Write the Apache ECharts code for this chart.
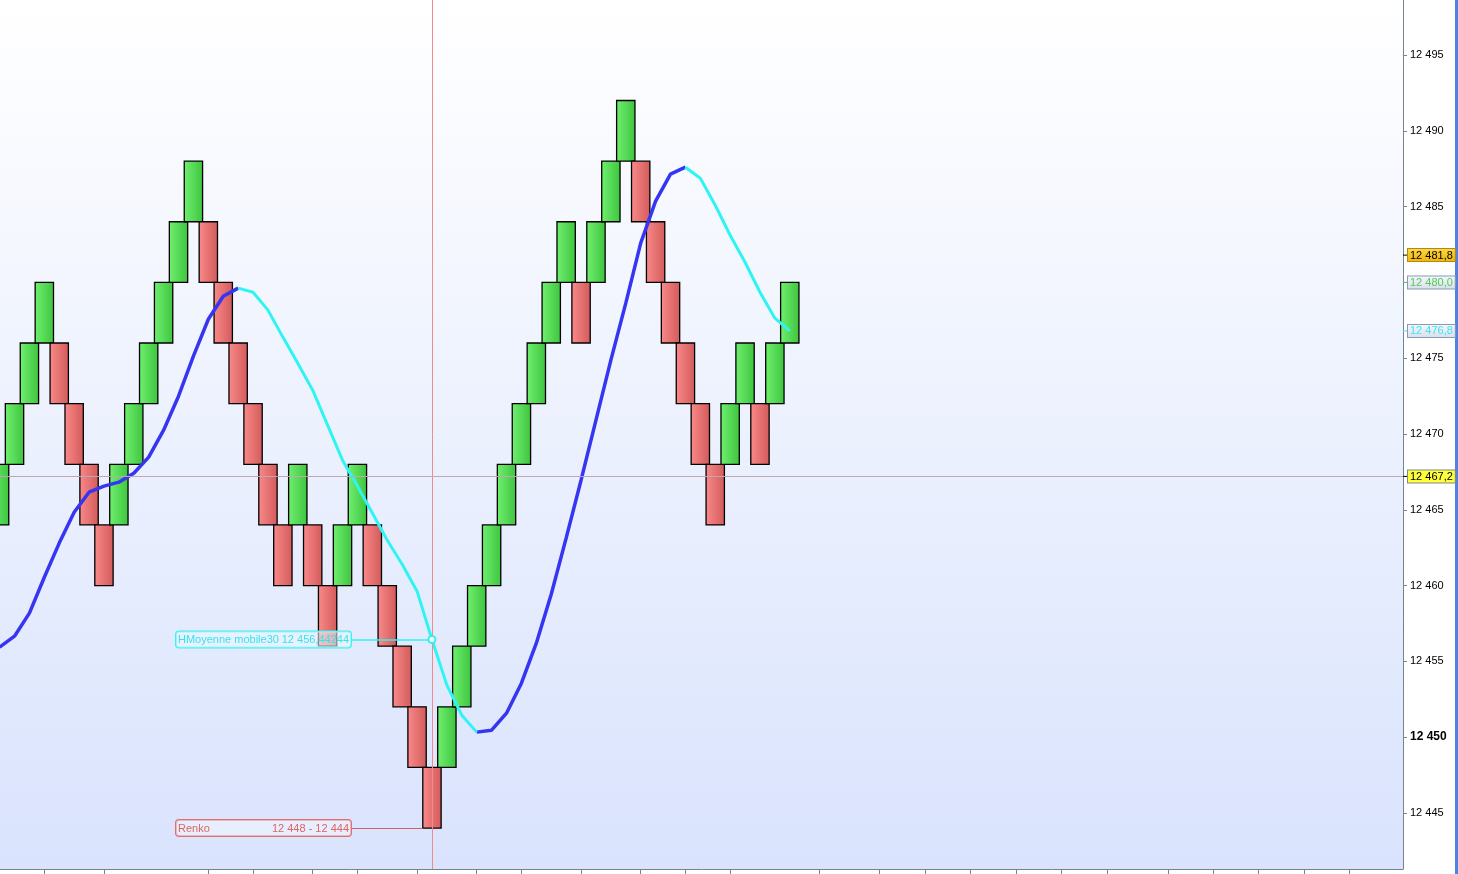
<!DOCTYPE html>
<html>
<head>
<meta charset="utf-8">
<script src="https://cdn.jsdelivr.net/npm/echarts@6/dist/echarts.min.js"></script>
<style>
  html, body { margin: 0; padding: 0; background: #fff; }
  #chart { width: 1458px; height: 874px; }
</style>
</head>
<body>
<div id="chart"></div>
<script>
// renko bricks, box size 4 : bottom of each brick and its direction (1 up, -1 down)
const BOX = 4
const brickLow = [
  12464, 12468, 12472, 12476, 12472, 12468, 12464, 12460,
  12464, 12468, 12472, 12476, 12480, 12484,
  12480, 12476, 12472, 12468, 12464, 12460,
  12464, 12460, 12456, 12460, 12464,
  12460, 12456, 12452, 12448, 12444,
  12448, 12452, 12456, 12460, 12464, 12468, 12472, 12476, 12480,
  12476, 12480, 12484, 12488,
  12484, 12480, 12476, 12472, 12468, 12464,
  12468, 12472, 12468, 12472, 12476
]
const brickDir = [
  1, 1, 1, 1, -1, -1, -1, -1,
  1, 1, 1, 1, 1, 1,
  -1, -1, -1, -1, -1, -1,
  1, -1, -1, 1, 1,
  -1, -1, -1, -1, -1,
  1, 1, 1, 1, 1, 1, 1, 1, 1,
  -1, 1, 1, 1,
  -1, -1, -1, -1, -1, -1,
  1, 1, -1, 1, 1
]
// moving average (30), one value per brick
const maValues = [
  12455.94, 12456.66, 12458.18, 12460.55, 12462.80, 12464.84, 12466.16, 12466.56,
  12466.82, 12467.41, 12468.47, 12470.25, 12472.49, 12475.13, 12477.57, 12479.09,
  12479.62, 12479.35, 12478.17, 12476.39, 12474.67, 12472.89, 12470.58, 12468.27,
  12466.56, 12464.78, 12462.99, 12461.41, 12459.63, 12456.44244, 12453.43, 12451.45,
  12450.33, 12450.46, 12451.58, 12453.56, 12456.20, 12459.43, 12463.13, 12466.95,
  12470.91, 12474.87, 12478.63, 12482.59, 12485.36, 12487.14, 12487.60, 12486.87,
  12485.09, 12483.11, 12481.33, 12479.35, 12477.64, 12476.8
]
const yTicks = [12445, 12450, 12455, 12460, 12465, 12470, 12475, 12480, 12485, 12490, 12495]
const xTicks = [3, 7, 14, 17, 21, 24, 28, 32, 35, 39, 43, 46, 49, 55, 59, 62.1, 65.1, 68.2, 71.2, 74.3, 78.4, 81.4, 84.4, 87.5, 90.5]

const crossIdx = 29
const crossPrice = 12467.2
const lastPrice = 12481.8
const lastClose = 12480.0
const maName = 'HMoyenne mobile30'

const FONT = '"Liberation Sans", Arial, sans-serif'
const HALF = 0.615

function fmt(v, d) {
  const s = v.toFixed(d).split('.')
  const int = s[0].replace(/\B(?=(\d{3})+(?!\d))/g, ' ')
  return d ? int + ',' + s[1] : int
}

const bricks = brickLow.map((lo, i) => [i, lo, lo + BOX, brickDir[i]])

const n = maValues.length
const maUp = maValues.map((v, i) =>
  ((i > 0 && v > maValues[i - 1]) || (i < n - 1 && maValues[i + 1] > v)) ? [i, v] : [i, null])
const maDown = maValues.map((v, i) =>
  ((i > 0 && v < maValues[i - 1]) || (i < n - 1 && maValues[i + 1] < v)) ? [i, v] : [i, null])

const greenFill = new echarts.graphic.LinearGradient(0, 0, 1, 0, [
  { offset: 0, color: '#70f070' }, { offset: 1, color: '#3ec43e' }])
const redFill = new echarts.graphic.LinearGradient(0, 0, 1, 0, [
  { offset: 0, color: '#fa8a8a' }, { offset: 1, color: '#d25a5a' }])

function priceTag(v, dec, txt, bg, border, tick, line) {
  return {
    yAxis: v,
    lineStyle: line || { color: 'rgba(0,0,0,0)', width: 1, type: 'solid' },
    label: {
      show: true, position: 'end', distance: 0,
      formatter: '{t|}{v|' + fmt(v, dec) + '}',
      rich: {
        t: { width: 5, height: 1, backgroundColor: tick },
        v: {
          color: txt, fontSize: 11, fontFamily: FONT, lineHeight: 13,
          backgroundColor: bg, borderColor: border, borderWidth: 1,
          padding: [1, 2, 0, 2]
        }
      }
    }
  }
}

const lightTag = new echarts.graphic.LinearGradient(0, 0, 0, 1, [
  { offset: 0, color: '#f6f8fc' }, { offset: 1, color: '#d8e0ee' }])
const goldTag = new echarts.graphic.LinearGradient(0, 0, 0, 1, [
  { offset: 0, color: '#ffd84a' }, { offset: 1, color: '#f0b400' }])

const myChart = echarts.init(document.getElementById('chart'))

myChart.setOption({
  animation: false,
  backgroundColor: '#ffffff',
  grid: {
    left: 0, right: 55, top: 0, bottom: 5, show: true, borderWidth: 0,
    backgroundColor: new echarts.graphic.LinearGradient(0, 0, 0, 1, [
      { offset: 0, color: '#ffffff' }, { offset: 1, color: '#d9e3fd' }])
  },
  xAxis: {
    type: 'value', min: 0.027, max: 94.13,
    axisLine: { show: true, lineStyle: { color: '#74858f', width: 1 } },
    axisTick: { show: true, length: 5, customValues: xTicks, lineStyle: { color: '#74858f' } },
    axisLabel: { show: false },
    splitLine: { show: false }
  },
  yAxis: {
    type: 'value', position: 'right', min: 12441.3, max: 12498.63,
    axisLine: { show: true, lineStyle: { color: '#74858f', width: 1 } },
    axisTick: { show: true, length: 4, customValues: yTicks, lineStyle: { color: '#74858f' } },
    axisLabel: {
      customValues: yTicks, margin: 7, color: '#000', fontSize: 11, fontFamily: FONT,
      formatter: v => v === 12450 ? '{b|' + fmt(v, 0) + '}' : fmt(v, 0),
      rich: { b: { fontWeight: 'bold', fontSize: 12, color: '#000', fontFamily: FONT } }
    },
    splitLine: { show: false }
  },
  graphic: [{
    type: 'rect', right: 0, top: 0, shape: { width: 3, height: 874 },
    style: { fill: '#4a84e6' }
  }],
  series: [
    {
      name: 'Renko', type: 'custom', clip: true, z: 2,
      data: bricks,
      renderItem: (params, api) => {
        const i = api.value(0)
        const a = api.coord([i - HALF, api.value(2)])
        const b = api.coord([i + HALF, api.value(1)])
        return {
          type: 'rect',
          shape: { x: a[0], y: a[1], width: b[0] - a[0], height: b[1] - a[1] },
          style: { fill: api.value(3) > 0 ? greenFill : redFill, stroke: '#000', lineWidth: 1.3 }
        }
      }
    },
    {
      name: maName + ' up', type: 'line', data: maUp, z: 4,
      showSymbol: false, symbol: 'none', connectNulls: false,
      lineStyle: { color: '#3535f2', width: 3.5 }
    },
    {
      name: maName, type: 'line', data: maDown, z: 4,
      showSymbol: false, symbol: 'none', connectNulls: false,
      lineStyle: { color: '#30f4f4', width: 3 },
      markLine: {
        silent: true, symbol: 'none', animation: false, z: 5,
        data: [
          { xAxis: crossIdx, lineStyle: { color: '#f28a8a', width: 1, type: 'solid' }, label: { show: false } },
          priceTag(crossPrice, 1, '#000', '#ffff3c', '#7f8a80', '#000',
            { color: '#bfa6b2', width: 1, type: 'solid' }),
          priceTag(lastPrice, 1, '#000', goldTag, '#b08a10', '#000'),
          priceTag(lastClose, 1, '#52cc52', lightTag, '#8a9ab0', '#52cc52'),
          priceTag(maValues[n - 1], 1, '#3ee4ee', lightTag, '#8a9ab0', '#3ee4ee'),
          [
            {
              coord: [23.57, maValues[crossIdx]], symbol: 'none',
              lineStyle: { color: '#30f0f0', width: 1.5, type: 'solid' },
              label: {
                show: true, position: 'start', distance: 0,
                formatter: '{a|' + maName + '}{b|' + fmt(maValues[crossIdx], 5) + '}',
                backgroundColor: 'rgba(240,245,255,0.55)', borderColor: '#3ef0f0', borderWidth: 1,
                borderRadius: 3, padding: [2, 2, 1, 2],
                rich: {
                  a: { width: 102, align: 'left', color: '#30e6ee', fontSize: 11, fontFamily: FONT, lineHeight: 13 },
                  b: { width: 69, align: 'right', color: '#30e6ee', fontSize: 11, fontFamily: FONT, lineHeight: 13 }
                }
              }
            },
            {
              coord: [crossIdx, maValues[crossIdx]], symbol: 'emptyCircle', symbolSize: 7,
              itemStyle: { color: '#30f0f0' }
            }
          ],
          [
            {
              coord: [23.57, brickLow[crossIdx]], symbol: 'none',
              lineStyle: { color: '#c86464', width: 1, type: 'solid' },
              label: {
                show: true, position: 'start', distance: 0,
                formatter: '{a|Renko}{b|' + fmt(brickLow[crossIdx] + BOX, 0) + ' - ' + fmt(brickLow[crossIdx], 0) + '}',
                backgroundColor: 'rgba(240,245,255,0.55)', borderColor: '#e07070', borderWidth: 1,
                borderRadius: 3, padding: [2, 2, 1, 2],
                rich: {
                  a: { width: 90, align: 'left', color: '#e06464', fontSize: 11, fontFamily: FONT, lineHeight: 13 },
                  b: { width: 81, align: 'right', color: '#e06464', fontSize: 11, fontFamily: FONT, lineHeight: 13 }
                }
              }
            },
            { coord: [crossIdx - HALF, brickLow[crossIdx]], symbol: 'none' }
          ]
        ]
      }
    }
  ]
})
</script>
</body>
</html>
